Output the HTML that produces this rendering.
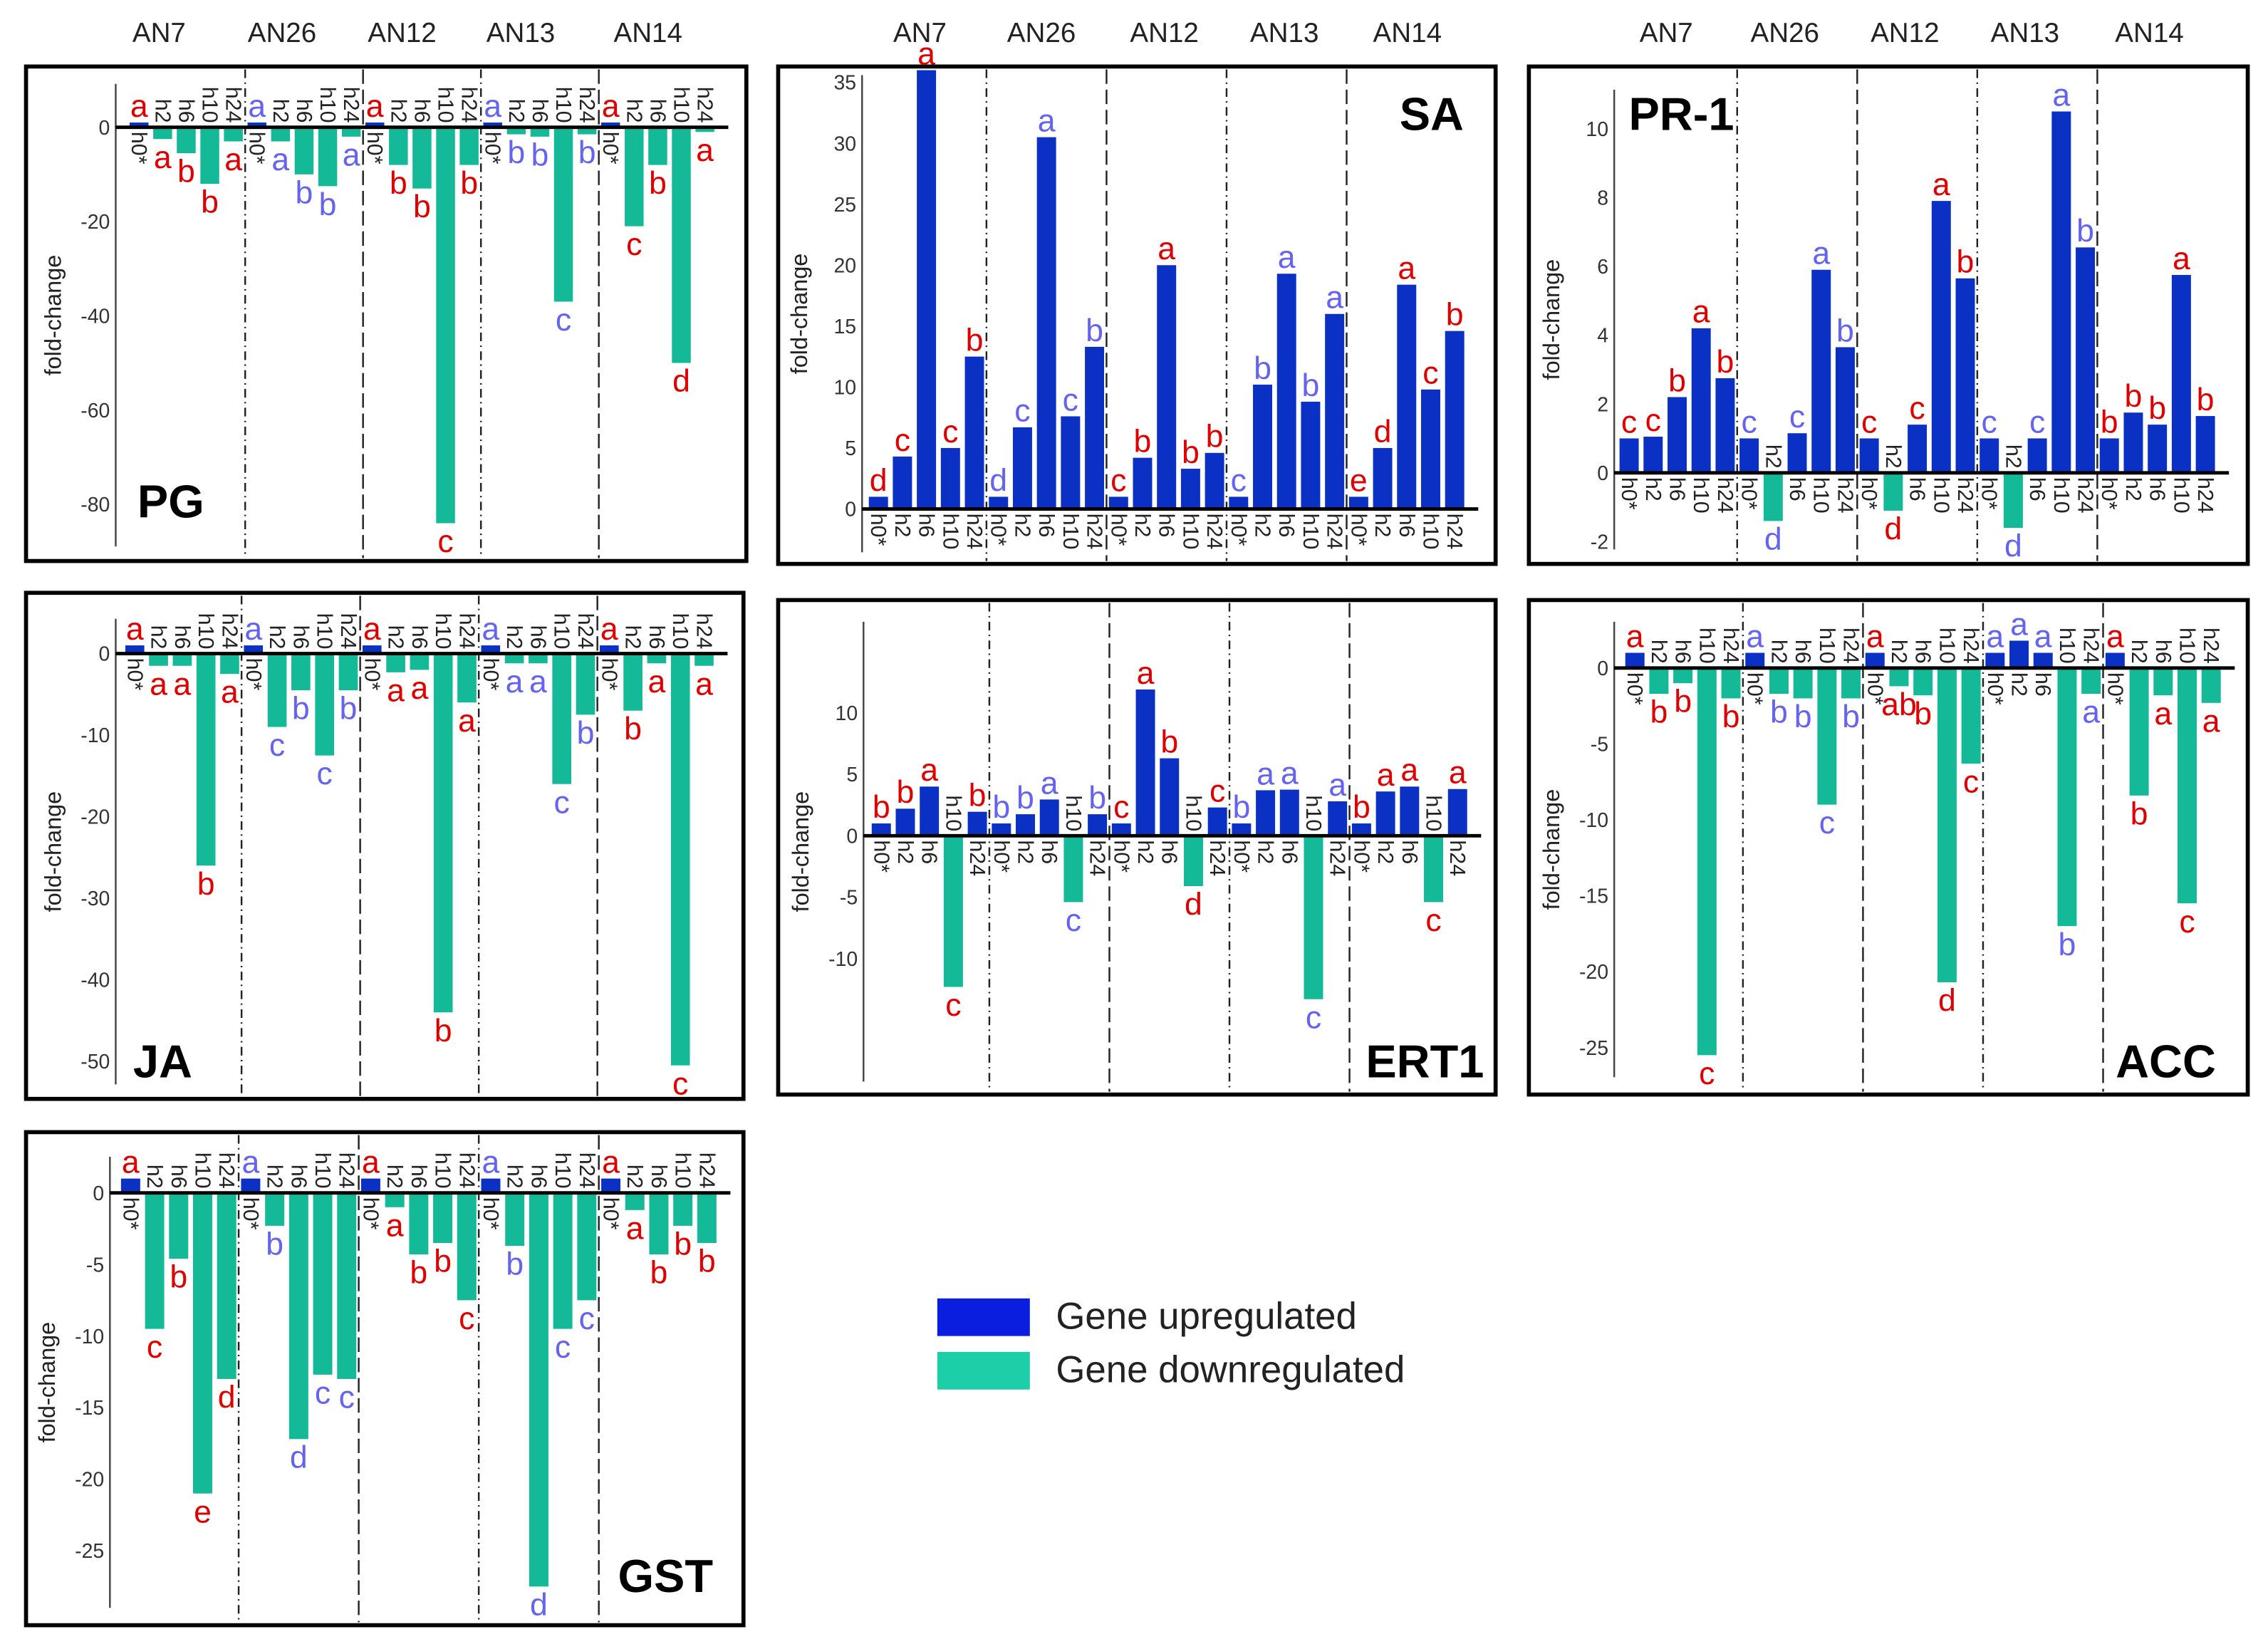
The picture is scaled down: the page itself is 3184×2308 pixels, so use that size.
<!DOCTYPE html>
<html><head><meta charset="utf-8"><style>
html,body{margin:0;padding:0;background:#fff;}
svg{display:block;}
text{font-family:"Liberation Sans",Arial,sans-serif;}
</style></head>
<body>
<svg id="fig" xmlns="http://www.w3.org/2000/svg" width="3184" height="2308" viewBox="0 0 1568 1137" preserveAspectRatio="none">
<rect x="0" y="0" width="1568" height="1137" fill="#fff"/>
</svg>
<script>
// ---- data ----
const strains = ["AN7","AN26","AN12","AN13","AN14"];
const timepoints = ["h0*","h2","h6","h10","h24"];
const pgValues = [[1,-2.5,-5.5,-12,-3],[1,-3,-10,-12.5,-2],[1,-8,-13,-84,-8],[1,-1.5,-2,-37,-1.5],[1,-21,-8,-50,-1]];
const pgLetters = [["a","a","b","b","a"],["a","a","b","b","a"],["a","b","b","c","b"],["a","b","b","c","b"],["a","c","b","d","a"]];
const pgTicks = [0,-20,-40,-60,-80];
const saValues = [[1,4.3,36,5,12.5],[1,6.7,30.5,7.6,13.3],[1,4.2,20,3.3,4.6],[1,10.2,19.3,8.8,16],[1,5,18.4,9.8,14.6]];
const saLetters = [["d","c","a","c","b"],["d","c","a","c","b"],["c","b","a","b","b"],["c","b","a","b","a"],["e","d","a","c","b"]];
const saTicks = [0,5,10,15,20,25,30,35];
const prValues = [[1,1.05,2.2,4.2,2.75],[1,-1.4,1.15,5.9,3.65],[1,-1.1,1.4,7.9,5.65],[1,-1.6,1,10.5,6.55],[1,1.75,1.4,5.75,1.65]];
const prLetters = [["c","c","b","a","b"],["c","d","c","a","b"],["c","d","c","a","b"],["c","d","c","a","b"],["b","b","b","a","b"]];
const prTicks = [-2,0,2,4,6,8,10];
const jaValues = [[1,-1.5,-1.5,-26,-2.5],[1,-9,-4.5,-12.5,-4.5],[1,-2.3,-2,-44,-6],[1,-1.2,-1.2,-16,-7.5],[1,-7,-1.2,-50.5,-1.5]];
const jaLetters = [["a","a","a","b","a"],["a","c","b","c","b"],["a","a","a","b","a"],["a","a","a","c","b"],["a","b","a","c","a"]];
const jaTicks = [0,-10,-20,-30,-40,-50];
const ertValues = [[1,2.2,4,-12.3,1.95],[1,1.75,2.95,-5.4,1.75],[1,11.9,6.3,-4.1,2.3],[1,3.7,3.75,-13.3,2.8],[1,3.6,4,-5.4,3.8]];
const ertLetters = [["b","b","a","c","b"],["b","b","a","c","b"],["c","a","b","d","c"],["b","a","a","c","a"],["b","a","a","c","a"]];
const ertTicks = [-10,-5,0,5,10];
const accValues = [[1,-1.7,-1,-25.5,-2],[1,-1.7,-2,-9,-2],[1,-1.2,-1.8,-20.7,-6.3],[1,1.8,1,-17,-1.7],[1,-8.4,-1.8,-15.5,-2.3]];
const accLetters = [["a","b","b","c","b"],["a","b","b","c","b"],["a","ab","b","d","c"],["a","a","a","b","a"],["a","b","a","c","a"]];
const accTicks = [0,-5,-10,-15,-20,-25];
const gstValues = [[1,-9.5,-4.6,-21,-13],[1,-2.3,-17.2,-12.7,-13],[1,-1,-4.3,-3.5,-7.5],[1,-3.7,-27.5,-9.5,-7.5],[1,-1.2,-4.3,-2.3,-3.5]];
const gstLetters = [["a","c","b","e","d"],["a","b","d","c","c"],["a","a","b","b","c"],["a","b","d","c","c"],["a","a","b","b","b"]];
const gstTicks = [0,-5,-10,-15,-20,-25];

const NS = "http://www.w3.org/2000/svg";
const svg = document.getElementById("fig");
const UP = "#0a31c4", DOWN = "#14b997", RED = "#e00000", BLUE = "#6464f0";
function mk(tag, attrs, parent) {
  const e = document.createElementNS(NS, tag);
  for (const k in attrs) e.setAttribute(k, attrs[k]);
  (parent || svg).appendChild(e);
  return e;
}

function panel(cfg) {
  const g = mk("g", {});
  
  
  const [bx, by, bw, bh] = cfg.box;
  const box = mk("rect", {x:bx, y:by, width:bw, height:bh, fill:"none", stroke:"#000", "stroke-width":2.8}, g);
  
  
  const yS = v => cfg.y0 - v * cfg.scale;
  const ax = mk("line", {x1:cfg.ax, x2:cfg.ax, y1:cfg.top, y2:cfg.bot, stroke:"#444", "stroke-width":1.2}, g);
  
  
  cfg.ticks.forEach(t => {
    const tl = mk("text", {x:cfg.ax - 4, y:yS(t) + 5, "text-anchor":"end", "font-size":14, fill:"#333"}, g);
    tl.textContent = t;
    
    
  });
  const yt = mk("text", {transform:`translate(${cfg.ax - 38},${(cfg.top + cfg.bot) / 2}) rotate(-90)`, "text-anchor":"middle", "font-size":16, fill:"#222"}, g);
  yt.textContent = "fold-change";
  
  
  for (let i = 1; i < 5; i++) {
    const sx = cfg.start + i * cfg.gw;
    const s = mk("line", {x1:sx, x2:sx, y1:by + 2, y2:by + bh - 2, stroke:"#222", "stroke-width":1.2, "stroke-dasharray": i % 2 ? "6,3,1,3" : "10,4"}, g);
    
    
  }
  const step = cfg.gw / 5, bwid = step * 0.8;
  cfg.values.forEach((grp, gi) => {
    const col = gi % 2 ? BLUE : RED;
    grp.forEach((v, bi) => {
      const cx = cfg.start + gi * cfg.gw + step * bi + step / 2;
      const y = yS(v);
      const r = mk("rect", {x:cx - bwid / 2, y:Math.min(y, cfg.y0), width:bwid, height:Math.abs(y - cfg.y0), fill:v >= 0 ? UP : DOWN}, g);
      
      
      const tl = mk("text", {"font-size":15, fill:"#222", "dominant-baseline":"central",
        "text-anchor": v >= 0 ? "start" : "end",
        transform:`translate(${cx},${v >= 0 ? cfg.y0 + 3 : cfg.y0 - 3}) rotate(90)`}, g);
      tl.textContent = timepoints[bi];
      
      
      const lt = mk("text", {x:cx, y: v >= 0 ? y - 4 : y + 20, "text-anchor":"middle", "font-size":22, fill:col}, g);
      lt.textContent = cfg.letters[gi][bi];
      
      
    });
  });
  const zl = mk("line", {x1:cfg.ax, x2:cfg.start + 5 * cfg.gw + 8, y1:cfg.y0, y2:cfg.y0, stroke:"#000", "stroke-width":2.4}, g);
  
  
  const tt = mk("text", {x:cfg.tx, y:cfg.ty, "text-anchor":cfg.ta, "font-size":32, "font-weight":"bold", fill:"#000"}, g);
  tt.textContent = cfg.title;
  
  
}

panel({name:"pg", title:"PG", box:[18,46,498,342], ax:80, top:58, bot:378, y0:88, scale:3.26, ticks:pgTicks, start:88, gw:81.5, values:pgValues, letters:pgLetters, tx:95, ty:358, ta:"start"});
panel({name:"sa", title:"SA", box:[538,46,496,344], ax:596, top:52, bot:382, y0:352, scale:8.43, ticks:saTicks, start:599, gw:83, values:saValues, letters:saLetters, tx:1012, ty:90, ta:"end"});
panel({name:"pr1", title:"PR-1", box:[1057,46,497,344], ax:1116, top:62, bot:380, y0:327, scale:23.8, ticks:prTicks, start:1118, gw:83, values:prValues, letters:prLetters, tx:1126, ty:90, ta:"start"});
panel({name:"ja", title:"JA", box:[18,410,496,350], ax:80, top:428, bot:750, y0:452, scale:5.64, ticks:jaTicks, start:85, gw:82, values:jaValues, letters:jaLetters, tx:92, ty:745, ta:"start"});
panel({name:"ert1", title:"ERT1", box:[538,415,496,342], ax:597, top:430, bot:748, y0:578, scale:8.5, ticks:ertTicks, start:601, gw:83, values:ertValues, letters:ertLetters, tx:1026, ty:745, ta:"end"});
panel({name:"acc", title:"ACC", box:[1057,415,497,342], ax:1116, top:430, bot:745, y0:462, scale:10.5, ticks:accTicks, start:1122, gw:83, values:accValues, letters:accLetters, tx:1532, ty:745, ta:"end"});
panel({name:"gst", title:"GST", box:[18,783,496,341], ax:76, top:800, bot:1112, y0:825, scale:9.9, ticks:gstTicks, start:82, gw:83, values:gstValues, letters:gstLetters, tx:493, ty:1101, ta:"end"});

[[110,195,278,360,448],[636,720,805,888,973],[1152,1234,1317,1400,1486]].forEach(xs => {
  xs.forEach((x, i) => {
    const t = mk("text", {x:x, y:29, "text-anchor":"middle", "font-size":19, fill:"#222"});
    t.textContent = strains[i];
    
    
  });
});

const lg = mk("g", {});


const l1 = mk("rect", {x:648, y:898, width:64, height:26, fill:"#0a1ee0"}, lg);


const l2 = mk("rect", {x:648, y:935, width:64, height:26, fill:"#1ccfa8"}, lg);


const t1 = mk("text", {x:730, y:919, "font-size":26, fill:"#222"}, lg);
t1.textContent = "Gene upregulated";


const t2 = mk("text", {x:730, y:956, "font-size":26, fill:"#222"}, lg);
t2.textContent = "Gene downregulated";


</script>
</body></html>
